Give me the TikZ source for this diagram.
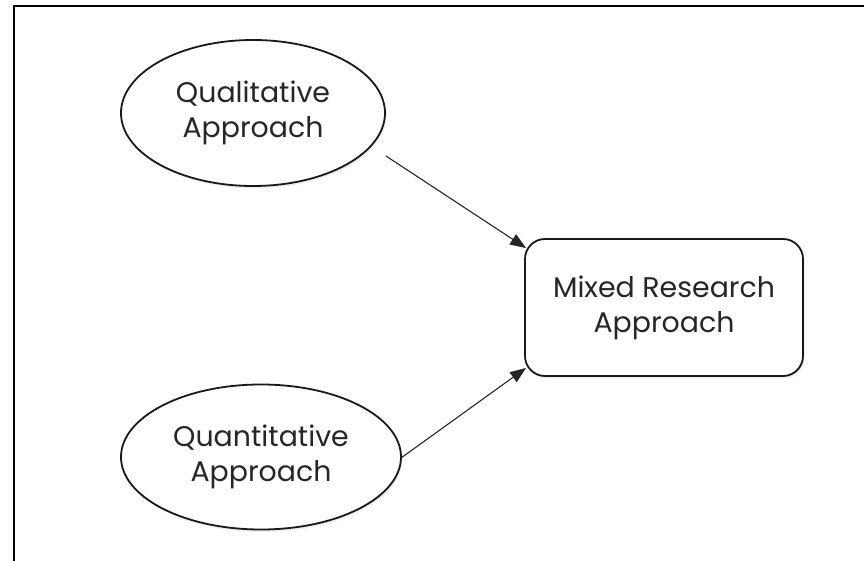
\documentclass[tikz,border=0pt]{standalone}
\usepackage{fontspec}
\setmainfont{Poppins}
\usetikzlibrary{shapes.geometric,arrows.meta,shadows,calc}
\begin{document}
\begin{tikzpicture}[x=1bp,y=-1bp,
  shapeline/.style={draw=black!90,line width=1.8bp,fill=white,
    drop shadow={opacity=0.12,shadow xshift=1.5bp,shadow yshift=-2.5bp}},
  label text/.style={align=center,font=\fontsize{28.5}{35}\selectfont,text=black!85},
  oval/.style={shapeline,ellipse,inner sep=0pt,label text},
  roundbox/.style={shapeline,rectangle,rounded corners=20bp,inner sep=0pt,label text},
  link/.style={draw=black!85,line width=1.1bp,-{Triangle[length=16bp,width=12bp]}}]
\useasboundingbox (0,0) rectangle (864,561);
\fill[white] (0,0) rectangle (864,561);
\draw[line width=2.5bp,black] (14,570) -- (14,6) -- (870,6);
\node[oval,minimum width=264bp,minimum height=146bp] (qual) at (253,113) {Qualitative\\Approach};
\node[oval,minimum width=280bp,minimum height=145bp] (quan) at (261,457) {Quantitative\\Approach};
\node[roundbox,minimum width=278bp,minimum height=137bp] (mixed) at (664,307.5) {Mixed Research\\Approach};
\coordinate (a1) at (386,156);
\coordinate (a2) at (401,458);
\draw[link] (a1) -- ($(mixed.north west)+(2,10)$);
\draw[link] (a2) -- ($(mixed.south west)+(2,-9)$);
\end{tikzpicture}
\end{document}
